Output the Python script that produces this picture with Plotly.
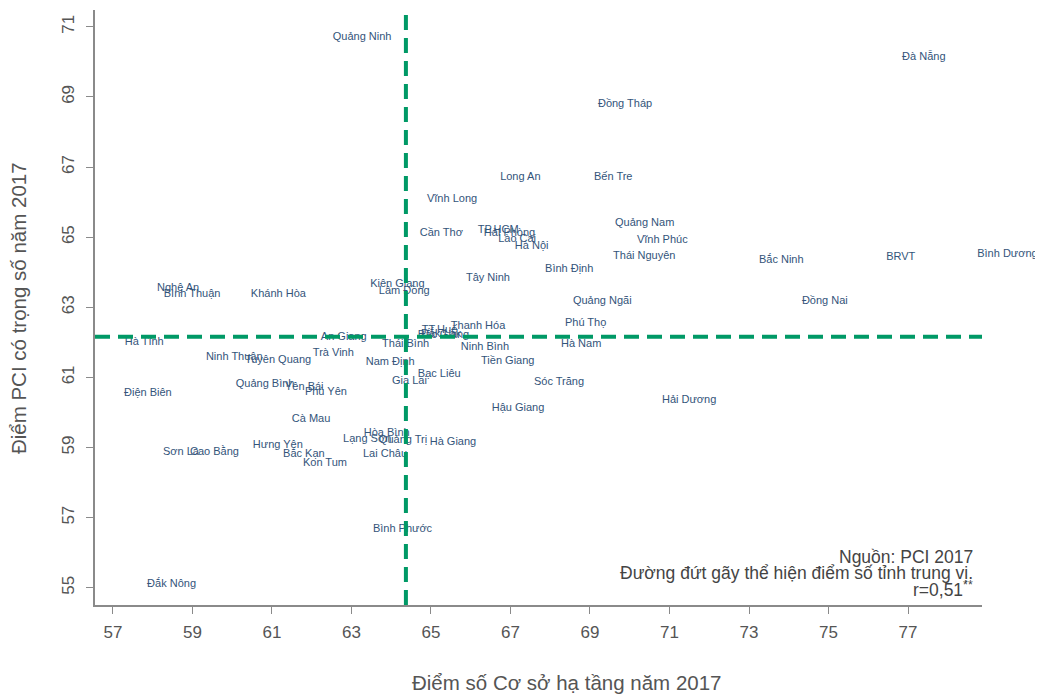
import plotly.graph_objects as go

provinces = ["Quảng Ninh", "Đà Nẵng", "Đồng Tháp", "Long An", "Bến Tre", "Vĩnh Long", "Cần Thơ",
             "TP.HCM", "Hải Phòng", "Lào Cai", "Hà Nội", "Quảng Nam", "Vĩnh Phúc", "Thái Nguyên",
             "Bình Định", "Bắc Ninh", "BRVT", "Bình Dương", "Đồng Nai", "Quảng Ngãi", "Phú Thọ",
             "Hà Nam", "Sóc Trăng", "Hải Dương", "Tây Ninh", "Kiên Giang", "Lâm Đồng", "Thanh Hóa",
             "TT.Huế", "Bắc Giang", "Đắk Lắk", "Ninh Bình", "Tiền Giang", "Bạc Liêu", "Gia Lai",
             "Nam Định", "Thái Bình", "An Giang", "Trà Vinh", "Hậu Giang", "Hà Giang", "Quảng Trị",
             "Lạng Sơn", "Hòa Bình", "Lai Châu", "Bình Phước", "Đắk Nông", "Sơn La", "Cao Bằng",
             "Hưng Yên", "Bắc Kạn", "Kon Tum", "Cà Mau", "Điện Biên", "Quảng Bình", "Yên Bái",
             "Phú Yên", "Ninh Thuận", "Tuyên Quang", "Hà Tĩnh", "Nghệ An", "Bình Thuận", "Khánh Hòa"]

infra_score = [62.53, 76.85, 69.20, 66.74, 69.10, 64.90, 64.72,
               66.18, 66.33, 66.69, 67.11, 69.63, 70.18, 69.58,
               67.87, 73.25, 76.45, 78.74, 74.33, 68.57, 68.37,
               68.27, 67.59, 70.81, 65.88, 63.47, 63.69, 65.50,
               64.77, 64.67, 64.75, 65.75, 66.26, 64.67, 64.02,
               63.36, 63.77, 62.23, 62.03, 66.53, 64.97, 63.69,
               62.79, 63.31, 63.29, 63.54, 57.86, 58.26, 58.94,
               60.52, 61.28, 61.78, 61.50, 57.28, 60.09, 61.33,
               61.83, 59.34, 60.32, 57.30, 58.11, 58.28, 60.47]

pci_score = [70.69, 70.14, 68.80, 66.72, 66.72, 66.09, 65.10,
             65.21, 65.12, 64.95, 64.73, 65.41, 64.90, 64.47,
             64.10, 64.35, 64.44, 64.50, 63.16, 63.16, 62.56,
             61.96, 60.85, 60.36, 63.84, 63.67, 63.47, 62.47,
             62.36, 62.19, 62.24, 61.87, 61.45, 61.10, 60.90,
             61.42, 61.96, 62.16, 61.70, 60.13, 59.16, 59.22,
             59.25, 59.42, 58.82, 56.68, 55.11, 58.88, 58.88,
             59.08, 58.82, 58.54, 59.82, 60.56, 60.82, 60.73,
             60.59, 61.59, 61.50, 61.99, 63.53, 63.36, 63.36]

median_infra = 64.37
median_pci = 62.16

x_ticks = [57, 59, 61, 63, 65, 67, 69, 71, 73, 75, 77]
y_ticks = [55, 57, 59, 61, 63, 65, 67, 69, 71]

note_lines = ["Nguồn: PCI 2017",
              "Đường đứt gãy thể hiện điểm số tỉnh trung vị.",
              "r=0,51<sup>**</sup>"]

FONT = "Liberation Sans, Arial, sans-serif"
GREEN = "#009966"

fig = go.Figure()
fig.add_trace(go.Scatter(
    x=infra_score, y=pci_score, text=provinces, mode="text",
    textposition="middle right", cliponaxis=False,
    textfont=dict(family=FONT, size=11, color="#33547a"),
    hoverinfo="text", showlegend=False,
))

fig.add_shape(type="line", xref="x", yref="paper", x0=median_infra, x1=median_infra, y0=0, y1=1,
              line=dict(color=GREEN, width=4, dash="15px,8px"))
fig.add_shape(type="line", xref="paper", yref="y", x0=0, x1=1, y0=median_pci, y1=median_pci,
              line=dict(color=GREEN, width=4, dash="15px,8px"))

axis_common = dict(
    showgrid=False, zeroline=False, showline=True, linecolor="#8a8a8a", linewidth=1.5,
    ticks="outside", ticklen=7, tickwidth=1.2, tickcolor="#8a8a8a",
    tickfont=dict(family=FONT, size=17, color="#555555"),
)

fig.update_xaxes(range=[56.55, 78.86], tickvals=x_ticks, ticklabelstandoff=4, **axis_common)
fig.update_yaxes(range=[54.51, 71.48], tickvals=y_ticks, tickangle=-90, ticklabelstandoff=5,
                 **axis_common)

annotations = [
    dict(xref="paper", yref="paper", x=-0.0868, y=0.499, text="Điểm PCI có trọng số năm 2017",
         textangle=-90, showarrow=False, font=dict(family=FONT, size=20.5, color="#555555"),
         xanchor="center", yanchor="middle"),
    dict(xref="paper", yref="paper", x=0.532, y=-0.131, text="Điểm số Cơ sở hạ tầng năm 2017",
         showarrow=False, font=dict(family=FONT, size=20.5, color="#555555"),
         xanchor="center", yanchor="middle"),
]
note_y = [0.0807, 0.0538, 0.0269]
for line, ny in zip(note_lines, note_y):
    annotations.append(dict(xref="paper", yref="paper", x=0.992, y=ny, text=line,
                            showarrow=False, xanchor="right", yanchor="middle",
                            font=dict(family=FONT, size=17.5, color="#444444")))

# the page body has an 8px margin, so the figure is sized to fit the 1043x694 window
fig.update_layout(
    width=1035, height=686,
    margin=dict(l=87, r=61, t=2, b=89),
    paper_bgcolor="white", plot_bgcolor="white",
    font=dict(family=FONT),
    annotations=annotations,
)

fig.write_html("out.html")
